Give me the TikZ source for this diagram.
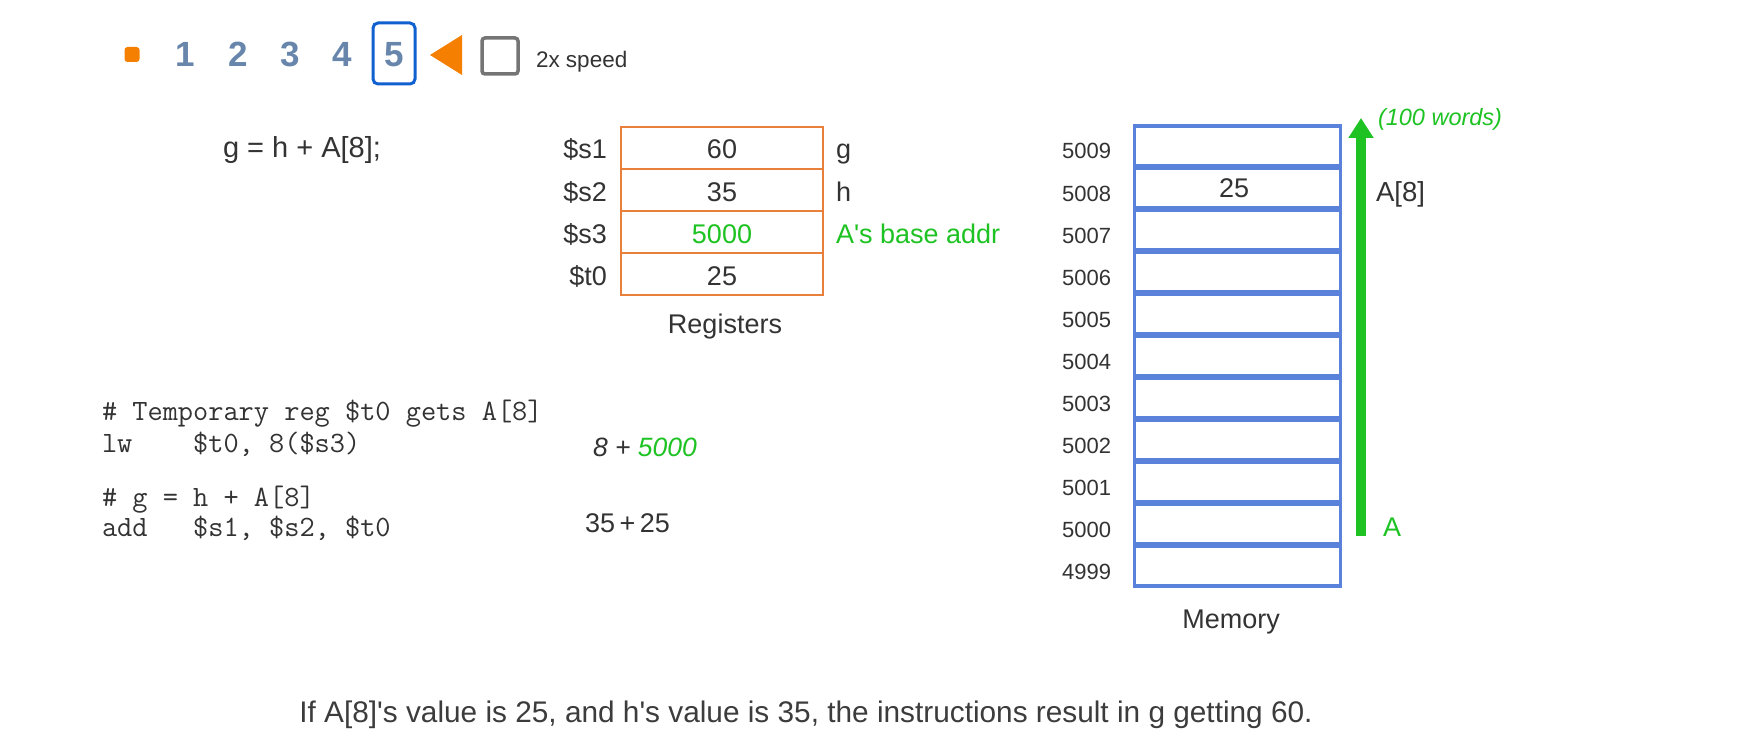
\documentclass[tikz,border=0pt]{standalone}
\usepackage{fontspec}
\setmainfont{Liberation Sans}
\usepackage{graphicx}
\usetikzlibrary{arrows.meta}
\definecolor{txt}{RGB}{51,51,51}
\definecolor{regorange}{RGB}{232,127,58}
\definecolor{memblue}{RGB}{90,130,218}
\definecolor{agreen}{RGB}{30,195,35}
\definecolor{digitc}{RGB}{104,134,172}
\definecolor{selblue}{RGB}{16,96,208}
\definecolor{playorange}{RGB}{245,127,0}
\definecolor{checkgray}{RGB}{117,117,117}
\definecolor{capgray}{RGB}{60,60,60}
\newcommand\fsz[1]{\fontsize{#1pt}{#1pt}\selectfont}
\newcommand\aps{\textquotesingle}
\begin{document}
\begin{tikzpicture}[x=1pt,y=-1pt,
  every node/.style={inner sep=0pt,outer sep=0pt,text=txt},
  digit/.style={anchor=base,font=\fsz{35}\bfseries,text=digitc},
  regcell/.style={draw=regorange,line width=2pt,minimum width=202pt,minimum height=42pt,anchor=center,font=\fsz{27}},
  reglab/.style={anchor=base east,font=\fsz{27}},
  regval/.style={anchor=base,font=\fsz{27}},
  regnote/.style={anchor=base west,font=\fsz{27}},
  memcell/.style={draw=memblue,line width=3.4pt,minimum width=206pt,minimum height=40.2pt,anchor=center},
  addr/.style={anchor=base east,font=\fsz{22}},
  codeline/.style={anchor=base west,font=\fsz{29.5}\ttfamily},
]
\useasboundingbox[fill=white] (0,0) rectangle (1750,754);

% ---- top bar
\node[fill=playorange,rounded corners=3pt,minimum size=15pt] (dot) at (132,54.5) {};
\node[digit] (d1) at (185,67) {1};
\node[digit] (d2) at (238,67) {2};
\node[digit] (d3) at (290,67) {3};
\node[digit] (d4) at (342,67) {4};
\node[digit] (d5) at (394,67) {5};
\node[draw=selblue,line width=3pt,rounded corners=5pt,minimum width=42pt,minimum height=61pt] (sel) at (394,53.5) {};
\fill[playorange] (430,55) -- (462,35) -- (462,75) -- cycle;
\node[draw=checkgray,line width=3.5pt,rounded corners=3pt,minimum size=36pt] (chk) at (500,56) {};
\node[anchor=base west,font=\fsz{22.5},text=txt] (speed) at (536,68) {2x speed};

% ---- statement
\node[anchor=base west,font=\fsz{29}] (stmt) at (223,158) {g = h + A[8];};

% ---- registers
\node[regcell] (r1) at (722,148) {};
\node[regcell] (r2) at (722,190) {};
\node[regcell] (r3) at (722,232) {};
\node[regcell] (r4) at (722,274) {};
\node[reglab] (l1) at (607,159) {\$s1};
\node[reglab] (l2) at (607,201) {\$s2};
\node[reglab] (l3) at (607,243) {\$s3};
\node[reglab] (l4) at (607,285) {\$t0};
\node[regval] (v1) at (722,159) {60};
\node[regval] (v2) at (722,201) {35};
\node[regval,text=agreen] (v3) at (722,243) {5000};
\node[regval] (v4) at (722,285) {25};
\node[regnote] (n1) at (836,159) {g};
\node[regnote] (n2) at (836,201) {h};
\node[regnote,text=agreen] (n3) at (836,243) {A\aps s base addr};
\node[anchor=base,font=\fsz{27}] (regs) at (725,333) {Registers};

% ---- memory
\foreach \i/\a in {0/5009,1/5008,2/5007,3/5006,4/5005,5/5004,6/5003,7/5002,8/5001,9/5000,10/4999}{
  \node[memcell] (m\a) at (1237.5,146+42*\i) {};
  \node[addr] (ad\a) at (1111,159+42*\i) {\a};
}
\node[anchor=base,font=\fsz{27}] (mv) at (1234,198) {25};
\node[anchor=base,font=\fsz{27}] (memlab) at (1231,628) {Memory};
\coordinate (abot) at (1361,536);
\coordinate (atop) at (1361,118);
\draw[agreen,line width=10pt,-{Triangle[width=24pt,length=20pt]}] (abot) -- (atop);
\node[anchor=base west,font=\fsz{23.5}\itshape,text=agreen] (words) at (1378,126) {(100 words)};
\node[anchor=base west,font=\fsz{27.5}] (a8) at (1376,201) {A[8]};
\node[anchor=base west,font=\fsz{27},text=agreen] (abase) at (1383,536) {A};

% ---- code
\node[codeline] (c1) at (102,420) {\#\ Temporary\ reg\ \$t0\ gets\ A[8]};
\node[codeline] (c2) at (102,452) {lw\ \ \ \ \$t0,\ 8(\$s3)};
\node[codeline] (c3) at (102,506) {\#\ g\ =\ h\ +\ A[8]};
\node[codeline] (c4) at (102,536) {add\ \ \ \$s1,\ \$s2,\ \$t0};
\node[anchor=base west,font=\fsz{26.5}\itshape] (e1) at (593,456) {8 + \textcolor{agreen}{5000}};
\node[anchor=base west,font=\fsz{27}] (e2) at (585,532) {35\kern4.5pt+\kern4.5pt25};

% ---- caption
\node[anchor=base,text=capgray] (cap) at (806,722) {\resizebox{1013pt}{!}{If A[8]\aps s value is 25, and h\aps s value is 35, the instructions result in g getting 60.}};
\end{tikzpicture}
\end{document}
